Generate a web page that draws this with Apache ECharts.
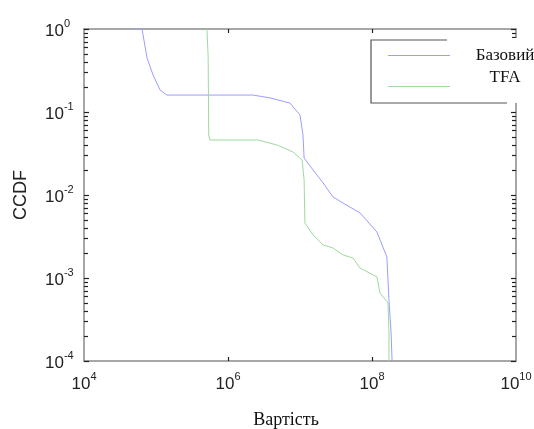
<!DOCTYPE html>
<html>
<head>
<meta charset="utf-8">
<script src="https://cdn.jsdelivr.net/npm/echarts@6/dist/echarts.min.js"></script>
<style>html,body{margin:0;padding:0;background:#fff}#c{width:534px;height:429px}</style>
</head>
<body>
<div id="c"></div>
<script>
// Series "Базовий"
var xBase = [5.1e4, 6.4e4, 7.5e4, 9.1e4, 1.14e5, 1.42e5, 2.22e6, 3.83e6, 7.26e6, 1.0e7, 1.10e7, 1.14e7, 1.52e7, 2.09e7, 2.87e7, 3.95e7, 6.8e7, 1.17e8, 1.61e8, 1.72e8, 1.84e8, 1.90e8];
var yBase = [1, 1, 0.448, 0.279, 0.184, 0.160, 0.160, 0.148, 0.128, 0.092, 0.053, 0.0279, 0.020, 0.0140, 0.0095, 0.0080, 0.0061, 0.00358, 0.00179, 5.4e-4, 2.23e-4, 1e-4];
// Series "TFA"
var xTfa = [5.1e5, 5.3e5, 5.4e5, 5.6e5, 2.61e6, 4.8e6, 8.0e6, 1.07e7, 1.14e7, 1.17e7, 1.52e7, 2.09e7, 2.87e7, 3.95e7, 5.45e7, 6.8e7, 1.17e8, 1.29e8, 1.67e8, 1.72e8, 1.72e8];
var yTfa = [1, 0.46, 0.053, 0.046, 0.046, 0.040, 0.033, 0.0264, 0.0152, 0.0046, 0.0033, 0.0025, 0.0023, 0.0019, 0.00174, 0.00132, 0.00103, 6.6e-4, 5.0e-4, 2.2e-4, 1e-4];
var seriesNames = ['Базовий', 'TFA'];
var xLabelValues = [1e4, 1e6, 1e8, 1e10];
var yLabelValues = [1e-4, 1e-3, 1e-2, 1e-1, 1];
var xTickValues = [1e6, 1e8];

function zip(a, b) { return a.map(function (v, i) { return [v, b[i]]; }); }

function fmt(v) {
  var e = Math.round(Math.log10(v));
  return '{b|10}{s|' + e + '}';
}
var labelRich = {
  b: { fontSize: 17, fontFamily: 'Liberation Sans', color: '#222', lineHeight: 22, verticalAlign: 'bottom' },
  s: { fontSize: 11, fontFamily: 'Liberation Sans', color: '#222', lineHeight: 13, verticalAlign: 'top' }
};
var axisLineStyle = { color: '#8a8a8a', width: 1.5 };
var tickStyle = { color: '#222', width: 1.2 };

var chart = echarts.init(document.getElementById('c'));
chart.setOption({
  backgroundColor: '#fff',
  animation: false,
  grid: { left: 84, right: 18, top: 29, bottom: 68, outerBoundsMode: 'none', containLabel: false },
  legend: {
    left: 383, top: 42, orient: 'vertical', z: 10,
    icon: 'rect', itemWidth: 62, itemHeight: 1, itemGap: 5,
    data: seriesNames,
    formatter: function (n) { return n === 'TFA' ? '{t|' + n + '}' : '{a|' + n + '}'; },
    textStyle: {
      fontFamily: 'Liberation Serif', fontSize: 17, color: '#111',
      rich: {
        a: { fontFamily: 'Liberation Serif', fontSize: 17, color: '#111', width: 100, align: 'center', lineHeight: 22 },
        t: { fontFamily: 'Liberation Serif', fontSize: 17, color: '#111', width: 100, align: 'center', lineHeight: 22, padding: [0, 0, 18, 0] }
      }
    }
  },
  xAxis: [{
    type: 'log', logBase: 10, min: 1e4, max: 1e10,
    name: 'Вартість', nameLocation: 'middle', nameGap: 50,
    nameTextStyle: { fontFamily: 'Liberation Serif', fontSize: 18, color: '#111', padding: [0, 28, 0, 0] },
    axisLine: { lineStyle: axisLineStyle },
    axisTick: { show: true, inside: true, length: 4, customValues: xTickValues, lineStyle: tickStyle },
    axisLabel: { customValues: xLabelValues, formatter: fmt, margin: 10, rich: labelRich },
    splitLine: { show: false }, minorTick: { show: false }
  }, {
    type: 'log', logBase: 10, min: 1e4, max: 1e10, position: 'top',
    axisLine: { show: true, lineStyle: axisLineStyle },
    axisTick: { show: true, inside: true, length: 4, customValues: xTickValues, lineStyle: tickStyle },
    axisLabel: { show: false }, splitLine: { show: false }
  }],
  yAxis: [{
    type: 'log', logBase: 10, min: 1e-4, max: 1,
    name: 'CCDF', nameLocation: 'middle', nameGap: 54,
    nameTextStyle: { fontFamily: 'Liberation Sans', fontSize: 18, color: '#222' },
    axisLine: { show: true, lineStyle: axisLineStyle },
    axisTick: { show: true, inside: true, length: 5, lineStyle: tickStyle },
    minorTick: { show: true, splitNumber: 9, length: 4, lineStyle: tickStyle },
    axisLabel: { customValues: yLabelValues, formatter: fmt, align: 'left', margin: 39, rich: labelRich },
    splitLine: { show: false }
  }, {
    type: 'log', logBase: 10, min: 1e-4, max: 1, position: 'right',
    axisLine: { show: true, lineStyle: axisLineStyle },
    axisTick: { show: true, inside: true, length: 5, lineStyle: tickStyle },
    minorTick: { show: true, splitNumber: 9, length: 4, lineStyle: tickStyle },
    axisLabel: { show: false }, splitLine: { show: false }
  }],
  graphic: [
    { type: 'rect', z: 5, shape: { x: 371, y: 38, width: 163, height: 65 }, style: { fill: '#fff' } },
    { type: 'polyline', z: 6, shape: { points: [[447, 40], [371, 40], [371, 103], [507, 103]] }, style: { stroke: '#555', lineWidth: 1.2, fill: null } }
  ],
  series: [{
    name: seriesNames[0], type: 'line', symbol: 'none', data: zip(xBase, yBase),
    lineStyle: { color: '#9c9cff', width: 1 }, itemStyle: { color: '#9c9cff' }
  }, {
    name: seriesNames[1], type: 'line', symbol: 'none', data: zip(xTfa, yTfa),
    lineStyle: { color: '#9fd99f', width: 1 }, itemStyle: { color: '#9fd99f' }
  }]
});
</script>
</body>
</html>
